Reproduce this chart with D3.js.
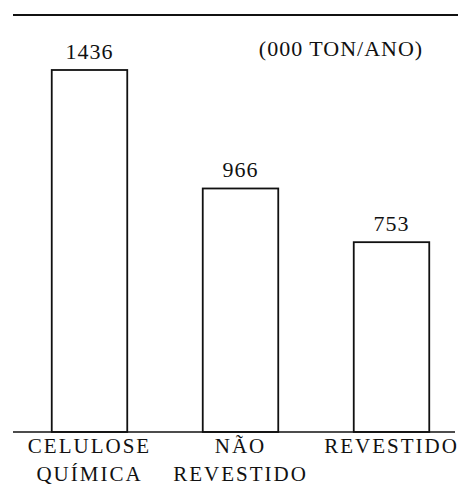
<!DOCTYPE html>
<html>
<head>
<meta charset="utf-8">
<script src="https://cdn.jsdelivr.net/npm/d3@7"></script>
<style>
	body { margin:0; background:#fff; }
</style>
</head>
<body>
<div id="chart-area"></div>
<script>
// produção por tipo (000 ton/ano)
var categories = ["CELULOSE QUÍMICA", "NÃO REVESTIDO", "REVESTIDO"];
var labelLines = [["CELULOSE", "QUÍMICA"], ["NÃO", "REVESTIDO"], ["REVESTIDO"]];
var values = [1436, 966, 753];
var unitLabel = "(000 TON/ANO)";

var width = 460, height = 493;
var baseY = 432;
var font = "Liberation Serif, Times New Roman, serif";

var svg = d3.select("#chart-area")
	.append("svg")
		.attr("width", width)
		.attr("height", height)
		.attr("font-family", font);

var x = d3.scaleBand()
	.domain(categories)
	.range([14, 467])
	.paddingInner(0.5)
	.paddingOuter(0.25);

var y = d3.scaleLinear()
	.domain([0, d3.max(values)])
	.range([baseY, 70]);

// rule across the top
svg.append("line")
	.attr("x1", 13).attr("x2", 458)
	.attr("y1", 15).attr("y2", 15)
	.attr("stroke", "#111")
	.attr("stroke-width", 2);

svg.append("text")
	.attr("x", 341)
	.attr("y", 56)
	.attr("text-anchor", "middle")
	.attr("font-size", "22px")
	.attr("letter-spacing", "1px")
	.attr("fill", "#111")
	.text(unitLabel);

var data = categories.map(function(c, i){ return {cat:c, value:values[i], lines:labelLines[i]}; });

svg.selectAll("rect.bar")
	.data(data)
	.enter()
	.append("rect")
		.attr("class", "bar")
		.attr("x", function(d){ return x(d.cat); })
		.attr("y", function(d){ return y(d.value); })
		.attr("width", x.bandwidth())
		.attr("height", function(d){ return baseY - y(d.value); })
		.attr("fill", "#fff")
		.attr("stroke", "#111")
		.attr("stroke-width", 1.8);

svg.selectAll("text.val")
	.data(data)
	.enter()
	.append("text")
		.attr("class", "val")
		.attr("x", function(d){ return x(d.cat) + x.bandwidth()/2; })
		.attr("y", function(d){ return y(d.value) - 11; })
		.attr("text-anchor", "middle")
		.attr("font-size", "22px")
		.attr("letter-spacing", "1px")
		.attr("fill", "#111")
		.text(function(d){ return d.value; });

// baseline
svg.append("line")
	.attr("x1", 13).attr("x2", 455)
	.attr("y1", baseY).attr("y2", baseY)
	.attr("stroke", "#111")
	.attr("stroke-width", 1.5);

var labels = svg.selectAll("text.cat")
	.data(data)
	.enter()
	.append("text")
		.attr("class", "cat")
		.attr("text-anchor", "middle")
		.attr("font-size", "21px")
		.attr("letter-spacing", "2px")
		.attr("fill", "#111");

labels.selectAll("tspan")
	.data(function(d){ return d.lines.map(function(l){ return {line:l, cat:d.cat}; }); })
	.enter()
	.append("tspan")
		.attr("x", function(d){ return x(d.cat) + x.bandwidth()/2; })
		.attr("y", function(d, i){ return 453 + i*28; })
		.text(function(d){ return d.line; });
</script>
</body>
</html>
